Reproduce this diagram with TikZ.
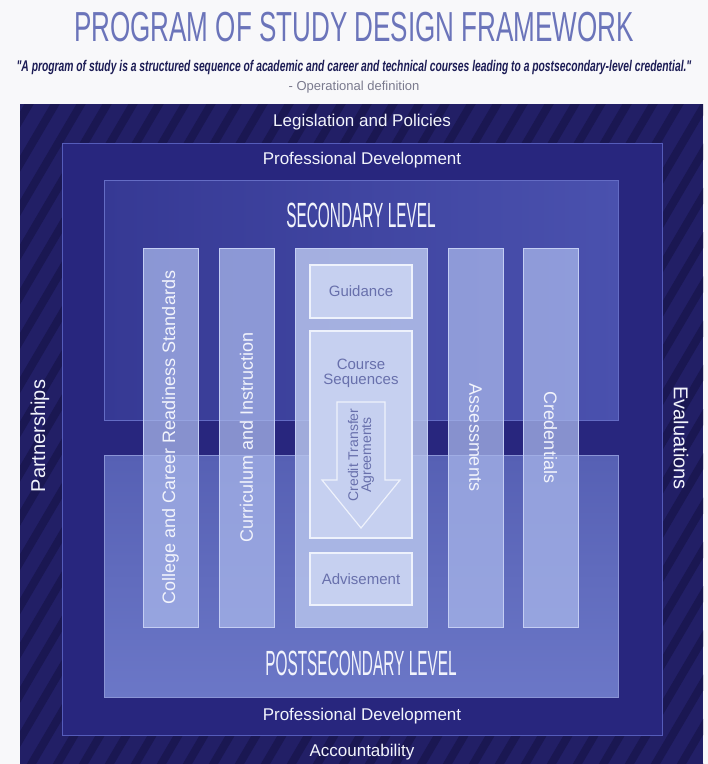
\documentclass[tikz,border=0pt]{standalone}
\usepackage{fontspec}
\setmainfont{Liberation Sans}
\newfontfamily\titlefont[FakeStretch=0.62]{Liberation Sans}
\newfontfamily\levelfont[FakeStretch=0.44]{Liberation Sans}
\newfontfamily\quotefont[FakeStretch=0.665]{Liberation Sans}
\usetikzlibrary{positioning}
\usepackage{xcolor}
\definecolor{PosPage}{HTML}{F8F8FA}
\definecolor{PosNavy}{HTML}{221F66}
\definecolor{PosStripe}{HTML}{1A1752}
\definecolor{PosProf}{HTML}{28267E}
\definecolor{PosProfLine}{HTML}{555CBA}
\definecolor{PosSecA}{HTML}{363994}
\definecolor{PosSecB}{HTML}{4A51AE}
\definecolor{PosSecLine}{HTML}{646CC4}
\definecolor{PosPostA}{HTML}{5660B4}
\definecolor{PosPostB}{HTML}{6B77C7}
\definecolor{PosPostLine}{HTML}{8A94D6}
\definecolor{PosColumn}{HTML}{A8B6EA}
\definecolor{PosColumnLine}{HTML}{C4CEF4}
\definecolor{PosCentre}{HTML}{B6C3EC}
\definecolor{PosInner}{HTML}{C6D0F0}
\definecolor{PosInnerLine}{HTML}{EEF2FC}
\definecolor{PosMuted}{HTML}{6870AC}
\definecolor{PosTitle}{HTML}{6B74BA}
\definecolor{PosQuote}{HTML}{1C1C55}
\definecolor{PosGrey}{HTML}{7A7A8E}
\definecolor{PosWhite}{HTML}{F2F4FC}
\tikzset{
    % nested plates, placed by their top left corner
    plate/.style={
        rectangle,
        inner sep=0pt,
        outer sep=0pt,
        anchor=north west
    },
    navyplate/.style={
        plate,
        fill=PosNavy
    },
    profplate/.style={
        plate,
        fill=PosProf,
        draw=PosProfLine,
        line width=1pt
    },
    secplate/.style={
        plate,
        left color=PosSecA,
        right color=PosSecB,
        draw=PosSecLine,
        line width=1pt
    },
    postplate/.style={
        plate,
        top color=PosPostA,
        bottom color=PosPostB,
        draw=PosPostLine,
        line width=1pt
    },
    % vertical pillars
    pillar/.style={
        rectangle,
        fill=PosColumn,
        fill opacity=0.75,
        text opacity=1,
        draw=PosColumnLine,
        line width=0.8pt,
        minimum width=379pt,
        minimum height=55pt,
        inner sep=0pt,
        text=PosWhite,
        font=\fontsize{18}{20}\selectfont
    },
    centrepillar/.style={
        rectangle,
        fill=PosCentre,
        fill opacity=0.85,
        draw=PosColumnLine,
        line width=0.8pt,
        minimum width=132pt,
        minimum height=379pt,
        inner sep=0pt
    },
    innerbox/.style={
        rectangle,
        fill=PosInner,
        draw=PosInnerLine,
        line width=1.5pt,
        minimum width=102pt,
        inner sep=0pt,
        text=PosMuted,
        font=\fontsize{15}{15}\selectfont
    },
    ringtext/.style={
        text=PosWhite,
        inner sep=0pt,
        font=\fontsize{17}{19}\selectfont
    },
    leveltext/.style={
        text=PosWhite,
        inner sep=0pt,
        font=\levelfont\fontsize{35}{35}\selectfont
    },
    stripe/.style={
        line width=8pt,
        draw=PosStripe
    }
}
\begin{document}
\begin{tikzpicture}[x=1pt, y=-1pt]
    \useasboundingbox[fill=PosPage] (0,0) rectangle (708,764);

    % Heading
    \node[text=PosTitle, font=\titlefont\fontsize{42}{42}\selectfont] (title) at (354,27) {PROGRAM OF STUDY DESIGN FRAMEWORK};
    \node[text=PosQuote, font=\quotefont\bfseries\itshape\fontsize{15.5}{15.5}\selectfont] (quote) at (354,67) {"A program of study is a structured sequence of academic and career and technical courses leading to a postsecondary-level credential."};
    \node[text=PosGrey, font=\fontsize{13}{13}\selectfont, below=0pt of quote] (opdef) {- Operational definition};

    % Outer ring with stripes
    \node[navyplate, minimum width=683pt, minimum height=660pt] (outer) at (20,104) {};
    \begin{scope}
        \clip (outer.north west) rectangle (outer.south east);
        \foreach \s in {0,...,48}
            \draw[stripe] ({\s*26-420},780) -- ++(470,-800);
    \end{scope}

    \node[profplate, minimum width=600pt, minimum height=592pt] (prof) at (62,143) {};
    \node[secplate, minimum width=514pt, minimum height=240pt] (sec) at (104,180) {};
    \node[postplate, minimum width=514pt, minimum height=242pt] (post) at (104,455) {};

    % Ring labels
    \node[ringtext] (legis) at (362,122) {Legislation and Policies};
    \node[ringtext] (proftop) at (362,160) {Professional Development};
    \node[ringtext] (profbot) at (362,716) {Professional Development};
    \node[ringtext] (account) at (362,752) {Accountability};
    \node[ringtext, rotate=90, font=\fontsize{20}{22}\selectfont] (partner) at (40,436) {Partnerships};
    \node[ringtext, rotate=-90, font=\fontsize{20}{22}\selectfont] (evals) at (681,438) {Evaluations};
    \node[leveltext] (seclevel) at (361,215) {SECONDARY LEVEL};
    \node[leveltext] (postlevel) at (361,663) {POSTSECONDARY LEVEL};

    % Pillars
    \node[pillar, rotate=90] (standards) at (170.5,437.5) {College and Career Readiness Standards};
    \node[pillar, rotate=90] (curric) at (246.5,437.5) {Curriculum and Instruction};
    \node[centrepillar] (centre) at (361,437.5) {};
    \node[pillar, rotate=-90] (assess) at (475.5,437.5) {Assessments};
    \node[pillar, rotate=-90] (creds) at (550.5,437.5) {Credentials};

    % Centre pillar contents
    \node[innerbox, minimum height=53pt] (guidance) at (361,291.5) {Guidance};
    \node[innerbox, minimum height=207pt] (courses) at (361,434.5) {};
    \node[innerbox, minimum height=52pt] (advise) at (361,579) {Advisement};
    \node[text=PosMuted, font=\fontsize{15}{15}\selectfont, align=center, inner sep=0pt] (coursetext) at (361,373) {Course\\Sequences};
    \draw[fill=PosInner, draw=PosInnerLine, line width=1.2pt]
        (337,402) -- (385,402) -- (385,480) -- (400,480) -- (361,528)
        -- (322,480) -- (337,480) -- cycle;
    \node[text=PosMuted, font=\fontsize{14}{13}\selectfont, align=center, inner sep=0pt, rotate=90] (credit) at (361,455) {Credit Transfer\\Agreements};
\end{tikzpicture}
\end{document}
